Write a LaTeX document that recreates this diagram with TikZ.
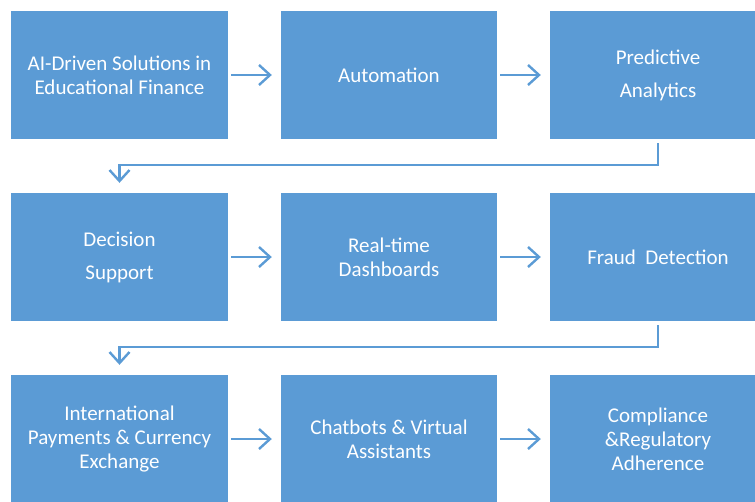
\documentclass[tikz,border=0pt]{standalone}
\usepackage{fontspec}
\setmainfont{Carlito}
\usetikzlibrary{arrows.meta}
\definecolor{boxblue}{HTML}{5B9BD5}
\tikzset{
  box/.style={rectangle, fill=boxblue, draw=none, minimum height=128pt, inner sep=2pt,
    text=white, align=center, font=\fontsize{21}{24}\selectfont},
  arr/.style={draw=boxblue, line width=2.4pt,
    -{Straight Barb[length=11pt,width=20pt,line width=2.4pt]}}
}
\begin{document}
\begin{tikzpicture}[x=1pt,y=-1pt]
\useasboundingbox (0,0) rectangle (755,501);
\node[box, minimum width=217pt] (a) at (119.5,75) {AI-Driven Solutions in\\Educational Finance};
\node[box, minimum width=216pt] (b) at (389,75) {Automation};
\node[box, minimum width=216pt] (c) at (658,75) {Predictive\\[9pt]Analytics};
\node[box, minimum width=217pt] (d) at (119.5,257) {Decision\\[9pt]Support};
\node[box, minimum width=216pt] (e) at (389,257) {Real-time\\Dashboards};
\node[box, minimum width=216pt] (f) at (658,257) {Fraud\ \ Detection};
\node[box, minimum width=217pt] (g) at (119.5,439) {International\\Payments \& Currency\\Exchange};
\node[box, minimum width=216pt] (h) at (389,439) {Chatbots \& Virtual\\Assistants};
\node[box, minimum width=216pt] (i) at (658,439) {Compliance\\\&Regulatory\\Adherence};
\draw[arr] ([xshift=3pt]a.east) -- ([xshift=-9pt]b.west);
\draw[arr] ([xshift=3pt]b.east) -- ([xshift=-9pt]c.west);
\draw[arr] ([xshift=3pt]d.east) -- ([xshift=-9pt]e.west);
\draw[arr] ([xshift=3pt]e.east) -- ([xshift=-9pt]f.west);
\draw[arr] ([xshift=3pt]g.east) -- ([xshift=-9pt]h.west);
\draw[arr] ([xshift=3pt]h.east) -- ([xshift=-9pt]i.west);
\draw[arr] ([yshift=-4pt]c.south) -- ++(0,22) -| ([yshift=10pt]d.north);
\draw[arr] ([yshift=-4pt]f.south) -- ++(0,22) -| ([yshift=10pt]g.north);
\end{tikzpicture}
\end{document}
